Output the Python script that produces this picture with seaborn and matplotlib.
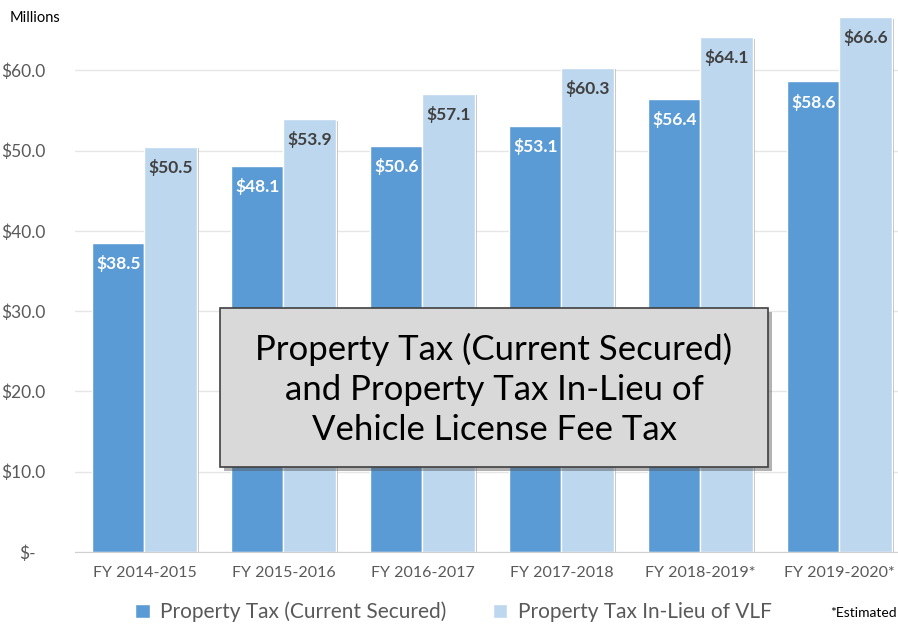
import numpy as np
import pandas as pd
import matplotlib.pyplot as plt
import matplotlib.patheffects as pe
import matplotlib.transforms as mtransforms
from matplotlib.patches import Patch, Rectangle
import seaborn as sns

# data (millions)
years = ["FY 2014-2015", "FY 2015-2016", "FY 2016-2017",
         "FY 2017-2018", "FY 2018-2019*", "FY 2019-2020*"]
property_tax = [38.5, 48.1, 50.6, 53.1, 56.4, 58.6]
vlf_tax = [50.5, 53.9, 57.1, 60.3, 64.1, 66.6]
series = ["Property Tax (Current Secured)", "Property Tax In-Lieu of VLF"]
y_ticks = [0, 10, 20, 30, 40, 50, 60]

df = pd.DataFrame({
    "year": years * 2,
    "value": property_tax + vlf_tax,
    "series": [series[0]] * len(years) + [series[1]] * len(years),
})

sns.set_style("white")
plt.rcParams["font.family"] = ["Lato", "DejaVu Sans"]

dark = "#5B9BD5"
light = "#BDD7EE"
grey_txt = "#595959"

W, H = 898, 627
fig = plt.figure(figsize=(W / 100, H / 100), dpi=100)
ax = fig.add_axes([0.0835, 0.1196, 0.9287, 0.8644])

sns.barplot(data=df, x="year", y="value", hue="series", palette=[dark, light],
            width=0.75, saturation=1, ax=ax, legend=False, zorder=3)

shadow = [pe.SimplePatchShadow(offset=(2, -1), shadow_rgbFace="#7f7f7f", alpha=0.5), pe.Normal()]
for p in ax.patches:
    p.set_path_effects(shadow)

# value labels inside the top of each bar
for cont, col in zip(ax.containers, ["white", "#404040"]):
    ax.bar_label(cont, labels=[f"${v:.1f}" for v in cont.datavalues], label_type="edge",
                 padding=-21, color=col, fontsize=12.5, fontweight="bold", zorder=5)

ax.set_ylim(0, 67.5)
ax.set_xlim(-0.5, 5.5)
ax.set_yticks(y_ticks)
ax.set_yticklabels(["$-"] + [f"${v:.1f}" for v in y_ticks[1:]], color=grey_txt, fontsize=12.5)
ax.tick_params(axis="x", colors=grey_txt, labelsize=11.5, length=0, pad=10)
ax.tick_params(axis="y", length=0, pad=21)
ax.set_xlabel("")
ax.set_ylabel("")
ax.yaxis.grid(True, color="#E6E6E6", linewidth=1, zorder=0)
for s in ["top", "right", "left"]:
    ax.spines[s].set_visible(False)
ax.spines["bottom"].set_color("#D0D0D0")
ax.spines["bottom"].set_zorder(4)

# accounting-style "$-" sits a little left of the other labels
zero_lbl = ax.yaxis.get_major_ticks()[0].label1
zero_lbl.set_transform(zero_lbl.get_transform()
                       + mtransforms.ScaledTranslation(-10 / 100, 0, fig.dpi_scale_trans))

fig.text(0.011, 0.972, "Millions", fontsize=10.5, color="black", va="center")

# title box (placed in figure pixels)
bx0, by0, bw, bh = 220, 308, 548, 159
box = Rectangle((bx0 / W, 1 - (by0 + bh) / H), bw / W, bh / H, transform=fig.transFigure,
                facecolor="#D9D9D9", edgecolor="#404040", linewidth=1.2, zorder=10)
box.set_path_effects([pe.SimplePatchShadow(offset=(3, -3), shadow_rgbFace="#555555", alpha=0.45),
                      pe.Normal()])
fig.patches.append(box)
fig.text((bx0 + bw / 2) / W, 1 - (by0 + bh / 2 + 2) / H,
         "Property Tax (Current Secured)\nand Property Tax In-Lieu of\nVehicle License Fee Tax",
         ha="center", va="center", fontsize=25, linespacing=1.3, color="black", zorder=11)

handles = [Patch(facecolor=dark), Patch(facecolor=light)]
fig.legend(handles, series, loc="center", bbox_to_anchor=(0.505, 0.024), ncol=2, frameon=False,
           handlelength=0.7, handleheight=0.7, handletextpad=0.5, columnspacing=2.2,
           prop={"size": 15}, labelcolor=grey_txt)
fig.text(0.999, 0.022, "*Estimated", fontsize=10, ha="right", va="center", color="black")

fig.savefig("out.png", dpi=100)
